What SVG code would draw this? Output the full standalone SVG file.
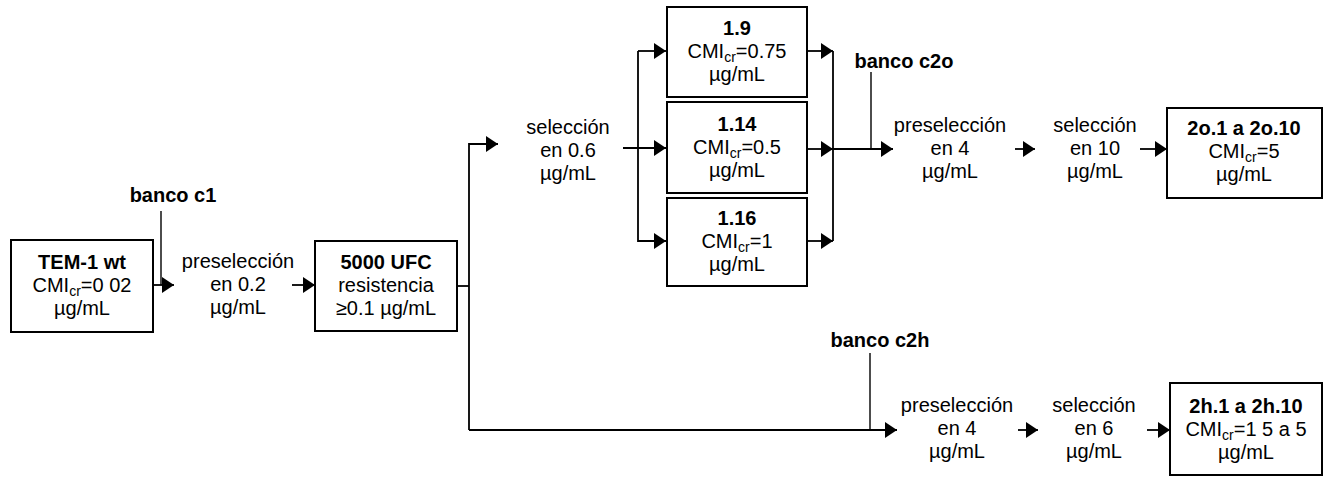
<svg xmlns="http://www.w3.org/2000/svg" width="1333" height="477" viewBox="0 0 1333 477">
<defs>
<marker id="ah" markerUnits="userSpaceOnUse" markerWidth="13" markerHeight="16" refX="12" refY="8" orient="auto">
<path d="M0,0 L12,8 L0,16 z" fill="#000"/>
</marker>
<style>
text{font-family:"Liberation Sans",Arial,sans-serif;font-size:20px;fill:#000;text-anchor:middle}
.b{font-weight:bold}
.sub{font-size:14px}
.box{fill:#fff;stroke:#000;stroke-width:2}
.ln{fill:none;stroke:#000;stroke-width:1.8}
.thin{fill:none;stroke:#000;stroke-width:1.4}
.ar{marker-end:url(#ah)}
</style>
</defs>
<rect width="1333" height="477" fill="#fff"/>

<g id="connectors">
<path class="ln ar" d="M153,285 H174"/>
<path class="thin" d="M161,211 V285"/>
<path class="ln ar" d="M292,285 H315"/>
<path class="ln" d="M457,286 H469"/>
<path class="ln ar" d="M469,430 V144 H498"/>
<path class="ln ar" d="M469,430 H897"/>
<path class="thin" d="M870,353 V430"/>
<path class="ln ar" d="M623,148 H666"/>
<path class="ln ar" d="M638,51 H666"/>
<path class="ln ar" d="M638,51 V241 H666"/>
<path class="ln ar" d="M807,51 H833"/>
<path class="ln ar" d="M807,149 H833"/>
<path class="ln ar" d="M807,241 H833"/>
<path class="ln" d="M833,51 V241"/>
<path class="ln ar" d="M833,149 H893"/>
<path class="thin" d="M871,72 V149"/>
<path class="ln ar" d="M1015,149 H1035"/>
<path class="ln ar" d="M1140,149 H1167"/>
<path class="ln ar" d="M1018,430 H1038"/>
<path class="ln ar" d="M1147,430 H1170"/>
</g>

<g id="banco-c1"><text class="b" x="173" y="202">banco c1</text></g>
<g id="banco-c2o"><text class="b" x="904" y="68">banco c2o</text></g>
<g id="banco-c2h"><text class="b" x="880" y="347">banco c2h</text></g>

<g id="tem1">
<rect class="box" x="11" y="240" width="142" height="92"/>
<text class="b" x="82" y="269">TEM-1 wt</text>
<text x="82" y="292">CMI<tspan class="sub" dy="4">cr</tspan><tspan dy="-4">=0 02</tspan></text>
<text x="82" y="315">µg/mL</text>
</g>

<g id="preseleccion-02">
<text x="238" y="268">preselección</text>
<text x="238" y="291">en 0.2</text>
<text x="238" y="314">µg/mL</text>
</g>

<g id="ufc5000">
<rect class="box" x="315" y="241" width="142" height="90"/>
<text class="b" x="386" y="269">5000 UFC</text>
<text x="386" y="292">resistencia</text>
<text x="386" y="315">≥0.1 µg/mL</text>
</g>

<g id="seleccion-06">
<text x="568" y="134">selección</text>
<text x="568" y="157">en 0.6</text>
<text x="568" y="180">µg/mL</text>
</g>

<g id="m19">
<rect class="box" x="667" y="7" width="140" height="90"/>
<text class="b" x="737" y="35">1.9</text>
<text x="737" y="58">CMI<tspan class="sub" dy="4">cr</tspan><tspan dy="-4">=0.75</tspan></text>
<text x="737" y="81">µg/mL</text>
</g>

<g id="m114">
<rect class="box" x="667" y="102" width="140" height="91"/>
<text class="b" x="737" y="131">1.14</text>
<text x="737" y="154">CMI<tspan class="sub" dy="4">cr</tspan><tspan dy="-4">=0.5</tspan></text>
<text x="737" y="177">µg/mL</text>
</g>

<g id="m116">
<rect class="box" x="667" y="198" width="140" height="88"/>
<text class="b" x="737" y="225">1.16</text>
<text x="737" y="248">CMI<tspan class="sub" dy="4">cr</tspan><tspan dy="-4">=1</tspan></text>
<text x="737" y="271">µg/mL</text>
</g>

<g id="preseleccion-4-top">
<text x="950" y="132">preselección</text>
<text x="950" y="155">en 4</text>
<text x="950" y="178">µg/mL</text>
</g>

<g id="seleccion-10">
<text x="1095" y="132">selección</text>
<text x="1095" y="155">en 10</text>
<text x="1095" y="178">µg/mL</text>
</g>

<g id="res2o">
<rect class="box" x="1167" y="108" width="155" height="90"/>
<text class="b" x="1244" y="135">2o.1 a 2o.10</text>
<text x="1244" y="158">CMI<tspan class="sub" dy="4">cr</tspan><tspan dy="-4">=5</tspan></text>
<text x="1244" y="181">µg/mL</text>
</g>

<g id="preseleccion-4-bottom">
<text x="957" y="412">preselección</text>
<text x="957" y="435">en 4</text>
<text x="957" y="458">µg/mL</text>
</g>

<g id="seleccion-6">
<text x="1094" y="412">selección</text>
<text x="1094" y="435">en 6</text>
<text x="1094" y="458">µg/mL</text>
</g>

<g id="res2h">
<rect class="box" x="1170" y="383" width="152" height="92"/>
<text class="b" x="1246" y="413">2h.1 a 2h.10</text>
<text x="1246" y="436">CMI<tspan class="sub" dy="4">cr</tspan><tspan dy="-4">=1 5 a 5</tspan></text>
<text x="1246" y="459">µg/mL</text>
</g>
</svg>
